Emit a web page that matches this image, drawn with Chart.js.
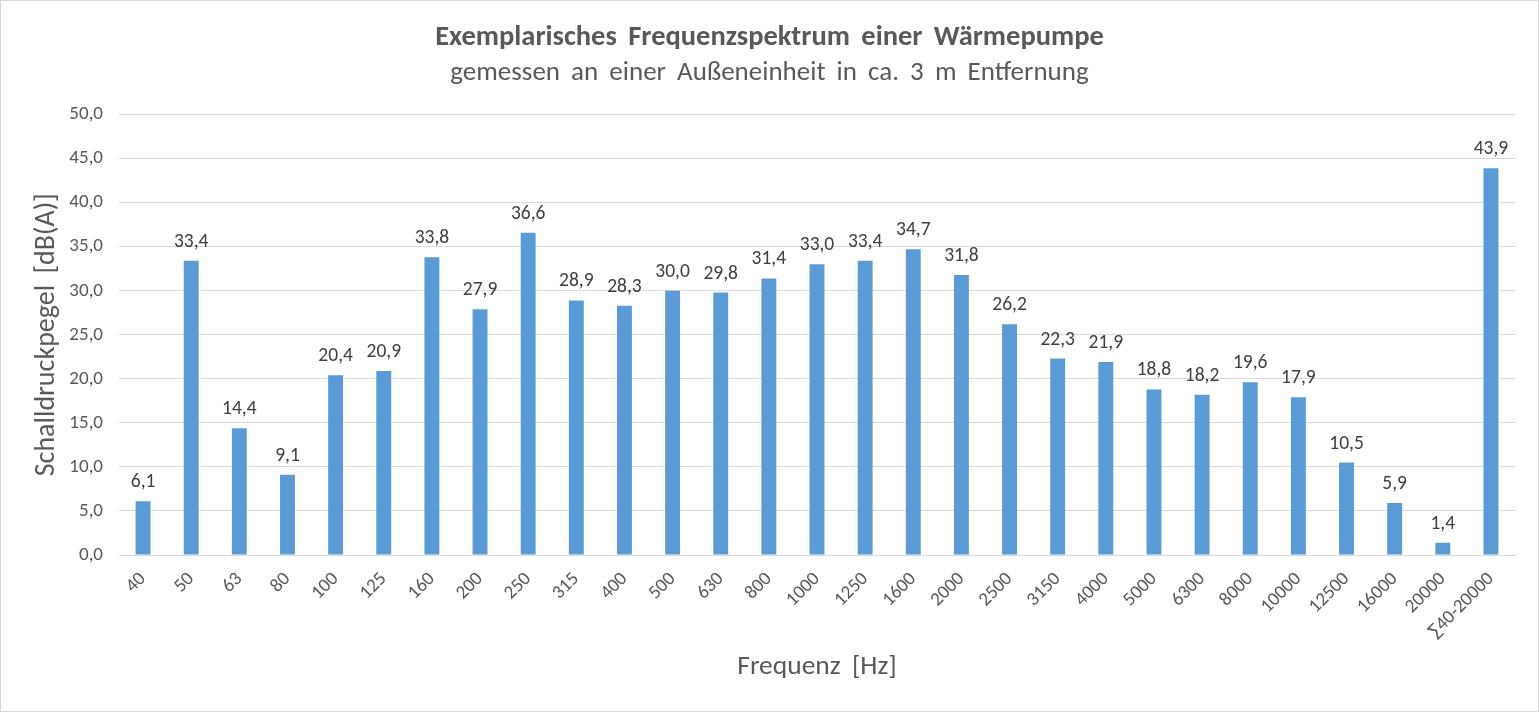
<!DOCTYPE html>
<html>
<head>
<meta charset="utf-8">
<script src="https://cdn.jsdelivr.net/npm/chart.js@4.4.0/dist/chart.umd.min.js"></script>
<style>
  html, body { margin: 0; padding: 0; background: #fff; }
  #wrap { width: 1537px; height: 710px; border: 1px solid #d9d9d9; position: relative; }
  canvas { display: block; }
</style>
</head>
<body>
<div id="wrap"><canvas id="c" width="1537" height="710"></canvas></div>
<script>
const categories = ["40","50","63","80","100","125","160","200","250","315","400","500","630","800","1000","1250","1600","2000","2500","3150","4000","5000","6300","8000","10000","12500","16000","20000","\u221140-20000"];
const levels = [6.1,33.4,14.4,9.1,20.4,20.9,33.8,27.9,36.6,28.9,28.3,30.0,29.8,31.4,33.0,33.4,34.7,31.8,26.2,22.3,21.9,18.8,18.2,19.6,17.9,10.5,5.9,1.4,43.9];
const yTicks = [0,5,10,15,20,25,30,35,40,45,50];

const FONT = "Carlito, Lato, 'Open Sans', sans-serif";
const fmt = v => v.toFixed(1).replace('.', ',');

const spacing = {
  id: 'spacing',
  beforeDraw(chart) {
    const ctx = chart.ctx;
    if ('wordSpacing' in ctx) ctx.wordSpacing = '5px';
  }
};

const valueLabels = {
  id: 'valueLabels',
  afterDatasetsDraw(chart) {
    const ctx = chart.ctx;
    const meta = chart.getDatasetMeta(0);
    ctx.save();
    ctx.font = "19.5px " + FONT;
    ctx.fillStyle = '#404040';
    ctx.textAlign = 'center';
    ctx.textBaseline = 'alphabetic';
    meta.data.forEach((bar, i) => {
      ctx.fillText(fmt(levels[i]), bar.x, bar.y - 14);
    });
    ctx.restore();
  }
};

new Chart(document.getElementById('c'), {
  type: 'bar',
  data: {
    labels: categories,
    datasets: [{
      data: levels,
      backgroundColor: '#5b9bd5',
      borderWidth: 0,
      categoryPercentage: 1,
      barPercentage: 0.31
    }]
  },
  options: {
    responsive: false,
    animation: false,
    events: [],
    layout: { padding: 0 },
    plugins: {
      legend: { display: false },
      tooltip: { enabled: false },
      title: {
        display: true,
        text: 'Exemplarisches Frequenzspektrum einer Wärmepumpe',
        color: '#595959',
        font: { family: FONT, size: 28.5, weight: 'bold' },
        padding: { top: 20, bottom: 0 }
      },
      subtitle: {
        display: true,
        text: 'gemessen an einer Außeneinheit in ca. 3 m Entfernung',
        color: '#595959',
        font: { family: FONT, size: 27 },
        padding: { top: 2, bottom: 25 }
      }
    },
    scales: {
      x: {
        grid: { display: false, drawTicks: false },
        border: { display: true, color: '#d9d9d9', width: 1 },
        ticks: {
          color: '#595959',
          font: { family: FONT, size: 19 },
          maxRotation: 45,
          minRotation: 45,
          autoSkip: false,
          padding: 13
        },
        title: {
          display: true,
          text: 'Frequenz [Hz]',
          color: '#595959',
          font: { family: FONT, size: 27.5 },
          padding: { top: 0, bottom: 27.5 }
        },
        afterFit(scale) { scale.height = 156; }
      },
      y: {
        min: 0,
        max: 50,
        afterBuildTicks(scale) { scale.ticks = yTicks.map(v => ({ value: v })); },
        grid: { color: '#d9d9d9', drawTicks: false },
        border: { display: false },
        ticks: {
          color: '#595959',
          font: { family: FONT, size: 19 },
          padding: 16,
          callback: v => fmt(v)
        },
        title: {
          display: true,
          text: 'Schalldruckpegel [dB(A)]',
          color: '#595959',
          font: { family: FONT, size: 28 },
          padding: { top: 29, bottom: 0 }
        },
        afterFit(scale) { scale.width = 118; }
      },
      yRight: {
        type: 'linear',
        position: 'right',
        min: 0,
        max: 50,
        grid: { display: false, drawTicks: false },
        border: { display: false },
        ticks: { display: false },
        afterFit(scale) { scale.width = 23; }
      }
    }
  },
  plugins: [spacing, valueLabels]
});
</script>
</body>
</html>
